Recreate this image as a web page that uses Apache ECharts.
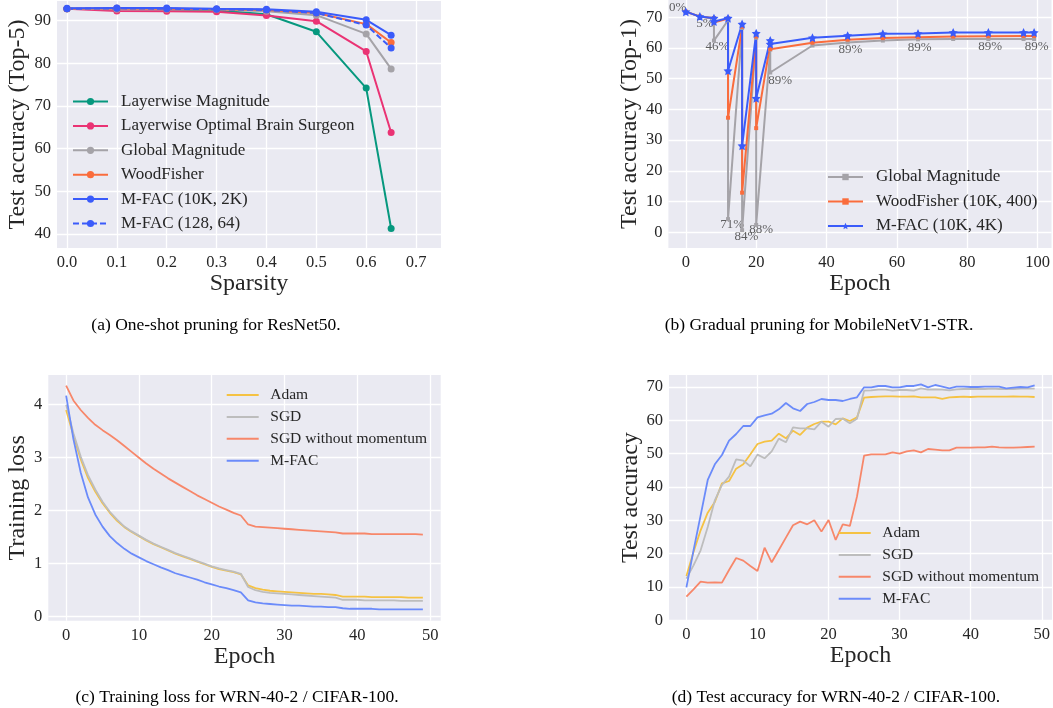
<!DOCTYPE html>
<html><head><meta charset="utf-8">
<script src="https://cdn.jsdelivr.net/npm/echarts@6/dist/echarts.min.js"></script>
<style>html,body{margin:0;padding:0;background:#fff}#c{width:1053px;height:708px}</style>
</head><body><div id="c"></div>
<script>
// ---------- (a) One-shot pruning ----------
const sparsity = [0, 0.1, 0.2, 0.3, 0.4, 0.5, 0.6, 0.65];
const layerwiseMag = [92.8, 92.7, 92.6, 92.4, 91.5, 87.4, 74.2, 41.3];
const layerwiseOBS = [92.8, 92.3, 92.2, 92.1, 91.2, 89.9, 82.8, 63.8];
const globalMagA = [92.8, 92.7, 92.7, 92.6, 92.2, 91.3, 86.9, 78.7];
const woodFisherA = [92.8, 92.9, 92.8, 92.7, 92.5, 91.8, 89.2, 84.9];
const mfac10k2k = [92.9, 93.0, 93.0, 92.8, 92.7, 92.1, 90.2, 86.6];
const mfac128 = [92.8, 92.9, 92.8, 92.7, 92.5, 91.8, 89.0, 83.6];
const ticksAx = [0, 0.1, 0.2, 0.3, 0.4, 0.5, 0.6, 0.7];
const ticksAy = [40, 50, 60, 70, 80, 90];

// ---------- (b) Gradual pruning ----------
const epochsB = [0, 4, 8, 8, 12, 12, 16, 16, 20, 20, 24, 24, 36, 46, 56, 66, 76, 86, 96, 99];
const globalMagB = [71.8, 70.2, 69.7, 62.4, 69.0, 4.3, 66.5, 0.7, 63.3, 2.4, 59.5, 52.0, 60.8, 61.8, 62.4, 62.8, 62.9, 62.9, 62.9, 62.9];
const woodFisherB = [71.8, 70.2, 69.7, 68.3, 69.6, 37.3, 66.9, 12.9, 63.7, 33.9, 61.3, 59.6, 61.7, 62.7, 63.2, 63.5, 63.7, 63.8, 63.9, 63.9];
const mfacB = [71.8, 70.2, 69.7, 68.6, 69.7, 52.6, 67.8, 28.2, 64.8, 43.6, 62.4, 61.3, 63.3, 64.0, 64.6, 64.7, 65.0, 65.0, 65.0, 65.0];
const sparsityLabels = [
  [-2.3, 73.1, '0%'], [5.4, 67.9, '5%'], [9.0, 60.5, '46%'], [13.2, 2.6, '71%'],
  [17.2, -1.3, '84%'], [21.4, 1.0, '88%'], [26.8, 49.5, '89%'], [46.8, 59.5, '89%'],
  [66.5, 60.1, '89%'], [86.5, 60.5, '89%'], [99.7, 60.5, '89%']
];
const ticksBx = [0, 20, 40, 60, 80, 100];
const ticksBy = [0, 10, 20, 30, 40, 50, 60, 70];

// ---------- (c) Training loss ----------
const epochsCD = Array.from({length: 50}, (_, i) => i);
const adamLoss = [3.90, 3.42, 2.97, 2.62, 2.36, 2.14, 1.96, 1.81, 1.69, 1.60, 1.52, 1.44, 1.37, 1.31, 1.25, 1.19, 1.14, 1.09, 1.04, 0.99, 0.94, 0.90, 0.87, 0.84, 0.80, 0.59, 0.54, 0.51, 0.49, 0.48, 0.47, 0.46, 0.45, 0.44, 0.43, 0.43, 0.42, 0.41, 0.38, 0.38, 0.38, 0.38, 0.37, 0.37, 0.37, 0.37, 0.37, 0.36, 0.36, 0.36];
const sgdLoss = [4.00, 3.46, 3.02, 2.67, 2.40, 2.17, 1.98, 1.83, 1.70, 1.61, 1.53, 1.45, 1.38, 1.32, 1.26, 1.20, 1.15, 1.10, 1.05, 1.00, 0.95, 0.91, 0.88, 0.85, 0.81, 0.56, 0.50, 0.47, 0.45, 0.44, 0.43, 0.42, 0.41, 0.40, 0.39, 0.38, 0.37, 0.36, 0.32, 0.32, 0.32, 0.31, 0.31, 0.31, 0.31, 0.31, 0.30, 0.30, 0.30, 0.30];
const sgdNmLoss = [4.36, 4.08, 3.90, 3.75, 3.62, 3.52, 3.43, 3.33, 3.22, 3.11, 3.00, 2.89, 2.79, 2.70, 2.61, 2.53, 2.45, 2.37, 2.29, 2.22, 2.15, 2.08, 2.02, 1.96, 1.91, 1.74, 1.70, 1.69, 1.68, 1.67, 1.66, 1.65, 1.64, 1.63, 1.62, 1.61, 1.60, 1.59, 1.57, 1.57, 1.57, 1.57, 1.56, 1.56, 1.56, 1.56, 1.56, 1.56, 1.56, 1.55];
const mfacLoss = [4.17, 3.35, 2.72, 2.25, 1.93, 1.70, 1.52, 1.39, 1.28, 1.19, 1.12, 1.05, 0.99, 0.93, 0.88, 0.82, 0.78, 0.74, 0.70, 0.65, 0.61, 0.57, 0.54, 0.50, 0.46, 0.31, 0.27, 0.25, 0.24, 0.23, 0.22, 0.21, 0.21, 0.20, 0.19, 0.19, 0.18, 0.18, 0.16, 0.15, 0.15, 0.15, 0.15, 0.14, 0.14, 0.14, 0.14, 0.14, 0.14, 0.14];
const ticksCx = [0, 10, 20, 30, 40, 50];
const ticksCy = [0, 1, 2, 3, 4];

// ---------- (d) Test accuracy ----------
const adamAcc = [13.3, 20.5, 27.0, 32.3, 35.5, 41.1, 41.8, 45.5, 46.8, 49.8, 52.9, 53.6, 53.9, 56.0, 54.6, 56.9, 55.6, 57.8, 58.9, 59.6, 59.6, 58.8, 60.6, 59.8, 60.9, 66.8, 67.0, 67.1, 67.2, 67.2, 67.1, 67.1, 67.2, 66.9, 66.9, 66.9, 66.4, 66.9, 67.0, 67.1, 67.0, 67.1, 67.1, 67.1, 67.1, 67.1, 67.2, 67.1, 67.1, 67.0];
const sgdAcc = [12.5, 16.5, 21.0, 28.0, 36.0, 40.6, 43.1, 48.3, 47.9, 46.2, 49.7, 48.6, 50.7, 54.5, 53.4, 57.9, 57.6, 57.6, 57.3, 59.6, 58.1, 60.4, 60.5, 59.1, 60.5, 68.9, 69.0, 69.2, 69.2, 68.9, 69.1, 69.1, 68.9, 69.6, 69.2, 69.3, 69.2, 69.0, 69.3, 69.4, 69.4, 69.4, 69.4, 69.5, 69.4, 69.4, 69.4, 69.5, 69.5, 69.5];
const sgdNmAcc = [7.1, 9.3, 11.6, 11.3, 11.4, 11.3, 15.1, 18.7, 17.9, 16.3, 14.8, 21.8, 17.4, 21.1, 24.8, 28.5, 29.6, 28.8, 30.0, 26.6, 30.1, 24.1, 28.8, 28.3, 37.1, 49.4, 49.8, 49.8, 49.8, 50.4, 50.0, 50.7, 51.0, 50.4, 51.4, 51.2, 51.0, 51.0, 51.8, 51.8, 51.8, 51.9, 51.9, 52.1, 51.9, 51.8, 51.8, 51.9, 52.0, 52.1];
const mfacAcc = [9.9, 21.0, 31.5, 42.1, 46.8, 49.6, 53.9, 55.9, 58.3, 58.3, 60.9, 61.5, 62.0, 63.3, 65.2, 63.6, 62.8, 64.9, 65.5, 66.4, 66.1, 66.1, 65.8, 66.4, 66.9, 69.9, 69.9, 70.3, 70.3, 69.9, 69.9, 70.3, 70.3, 70.8, 69.9, 70.6, 70.1, 69.6, 70.1, 70.1, 70.0, 70.0, 70.1, 70.1, 70.1, 69.6, 69.8, 70.0, 69.9, 70.5];
const ticksDx = [0, 10, 20, 30, 40, 50];
const ticksDy = [0, 10, 20, 30, 40, 50, 60, 70];

const captions = [
  '(a) One-shot pruning for ResNet50.',
  '(b) Gradual pruning for MobileNetV1-STR.',
  '(c) Training loss for WRN-40-2 / CIFAR-100.',
  '(d) Test accuracy for WRN-40-2 / CIFAR-100.'
];

const FONT = 'Liberation Serif';
const TXT = '#262626';
const BG = '#EAEAF2';
const STAR = 'path://M0,-10L2.94,-4.05L9.51,-3.09L4.76,1.55L5.88,8.09L0,5L-5.88,8.09L-4.76,1.55L-9.51,-3.09L-2.94,-4.05Z';

function ax(gridIndex, min, max, ticks, name, nameGap, fmt) {
  return {
    type: 'value', gridIndex, min, max, name, nameLocation: 'middle', nameGap,
    nameTextStyle: {fontFamily: FONT, fontSize: 24, color: TXT},
    axisLine: {show: false},
    axisTick: {show: false, customValues: ticks},
    axisLabel: {customValues: ticks, fontFamily: FONT, fontSize: 16.5, color: TXT, margin: 6,
                formatter: fmt || (v => String(v))},
    splitLine: {show: true, lineStyle: {color: '#ffffff', width: 1.3}}
  };
}
const zip = (xs, ys) => xs.map((x, i) => [x, ys[i]]);
function line(name, g, xs, ys, color, extra) {
  return Object.assign({
    type: 'line', name, xAxisIndex: g, yAxisIndex: g, data: zip(xs, ys),
    symbol: 'none', lineStyle: {width: 1.8, color}, itemStyle: {color},
    animation: false, silent: true
  }, extra || {});
}
const dot = (size) => ({symbol: 'circle', symbolSize: size, showSymbol: true});
const fmtName = n => n.split('::')[1];
function legend(names, left, top, itemWidth, itemHeight, gap, fs, pad, hideSymbol) {
  const l = {
    data: names, left, top, orient: 'vertical', itemWidth, itemHeight, itemGap: gap,
    padding: 0, selectedMode: false, formatter: fmtName,
    textStyle: {fontFamily: FONT, fontSize: fs, color: TXT, lineHeight: fs, padding: [0, 0, 0, pad]}
  };
  if (hideSymbol) l.itemStyle = {opacity: 0};
  return l;
}

const cA = {teal: '#06987E', pink: '#EA3374', gray: '#A5A3A8', orange: '#FA6C3C', blue: '#3A5BFA'};
const cC = {adam: '#F5C243', sgd: '#BDBDBD', nm: '#F7876A', mfac: '#6B8BFA'};

const namesA = ['a::Layerwise Magnitude', 'a::Layerwise Optimal Brain Surgeon', 'a::Global Magnitude',
                'a::WoodFisher', 'a::M-FAC (10K, 2K)', 'a::M-FAC (128, 64)'];
const namesB = ['b::Global Magnitude', 'b::WoodFisher (10K, 400)', 'b::M-FAC (10K, 4K)'];
const namesC = ['c::Adam', 'c::SGD', 'c::SGD without momentum', 'c::M-FAC'];
const namesD = ['d::Adam', 'd::SGD', 'd::SGD without momentum', 'd::M-FAC'];

const option = {
  animation: false,
  backgroundColor: '#ffffff',
  grid: [
    {left: 57, top: 1, width: 384, height: 247, show: true, backgroundColor: BG, borderWidth: 0},
    {left: 668.4, top: 0, width: 387.6, height: 248, show: true, backgroundColor: BG, borderWidth: 0},
    {left: 48.3, top: 375, width: 392.4, height: 245.7, show: true, backgroundColor: BG, borderWidth: 0},
    {left: 669, top: 375, width: 386.6, height: 245.3, show: true, backgroundColor: BG, borderWidth: 0}
  ],
  xAxis: [
    ax(0, -0.02, 0.75, ticksAx, 'Sparsity', 20, v => v.toFixed(1)),
    ax(1, -4.95, 103.95, ticksBx, 'Epoch', 20),
    ax(2, -2.45, 51.45, ticksCx, 'Epoch', 20),
    ax(3, -2.45, 51.45, ticksDx, 'Epoch', 20)
  ],
  yAxis: [
    ax(0, 36.72, 94.62, ticksAy, 'Test accuracy (Top-5)', 27),
    ax(1, -5.1, 75.6, ticksBy, 'Test accuracy (Top-1)', 26),
    ax(2, -0.075, 4.56, ticksCy, 'Training loss', 17),
    ax(3, 0, 73.6, ticksDy, 'Test accuracy', 26)
  ],
  legend: [
    legend(namesA, 72, 93, 35, 9, 7.4, 17, 8, false),
    legend(namesB, 827, 168.5, 35, 8, 7.5, 17, 8, false),
    legend(namesC, 225.7, 387, 32, 10, 5.9, 15.5, 6.6, true),
    legend(namesD, 837.7, 525, 32, 10, 5.9, 15.5, 6.6, true)
  ],
  series: [
    line(namesA[0], 0, sparsity, layerwiseMag, cA.teal, Object.assign({lineStyle: {width: 2, color: cA.teal}}, dot(7))),
    line(namesA[1], 0, sparsity, layerwiseOBS, cA.pink, Object.assign({lineStyle: {width: 2, color: cA.pink}}, dot(7))),
    line(namesA[2], 0, sparsity, globalMagA, cA.gray, Object.assign({lineStyle: {width: 2, color: cA.gray}}, dot(7))),
    line(namesA[3], 0, sparsity, woodFisherA, cA.orange, Object.assign({lineStyle: {width: 2, color: cA.orange}}, dot(7))),
    line(namesA[4], 0, sparsity, mfac10k2k, cA.blue, Object.assign({lineStyle: {width: 2, color: cA.blue}}, dot(7))),
    line(namesA[5], 0, sparsity, mfac128, cA.blue, Object.assign({lineStyle: {width: 2, color: cA.blue, type: [6, 3]}}, dot(7))),

    line(namesB[0], 1, epochsB, globalMagB, cA.gray, {lineStyle: {width: 2, color: cA.gray}, symbol: 'rect', symbolSize: 4, showSymbol: true}),
    line(namesB[1], 1, epochsB, woodFisherB, cA.orange, {lineStyle: {width: 2, color: cA.orange}, symbol: 'rect', symbolSize: 4, showSymbol: true}),
    line(namesB[2], 1, epochsB, mfacB, cA.blue, {lineStyle: {width: 2, color: cA.blue}, symbol: STAR, symbolSize: 9, showSymbol: true}),
    {
      type: 'scatter', xAxisIndex: 1, yAxisIndex: 1, silent: true, animation: false,
      symbolSize: 1, itemStyle: {color: 'rgba(0,0,0,0)'},
      data: sparsityLabels.map(d => ({value: [d[0], d[1]], name: d[2]})),
      label: {show: true, position: 'inside', formatter: '{b}', fontFamily: FONT, fontSize: 13, color: '#3a3a3a'}
    },

    line(namesC[0], 2, epochsCD, adamLoss, cC.adam),
    line(namesC[1], 2, epochsCD, sgdLoss, cC.sgd),
    line(namesC[2], 2, epochsCD, sgdNmLoss, cC.nm),
    line(namesC[3], 2, epochsCD, mfacLoss, cC.mfac),

    line(namesD[0], 3, epochsCD, adamAcc, cC.adam),
    line(namesD[1], 3, epochsCD, sgdAcc, cC.sgd),
    line(namesD[2], 3, epochsCD, sgdNmAcc, cC.nm),
    line(namesD[3], 3, epochsCD, mfacAcc, cC.mfac)
  ],
  graphic: [
    {type: 'text', x: 216, y: 325, style: {text: captions[0]}},
    {type: 'text', x: 819, y: 325, style: {text: captions[1]}},
    {type: 'text', x: 237, y: 697, style: {text: captions[2]}},
    {type: 'text', x: 836, y: 697, style: {text: captions[3]}}
  ].map(g => { Object.assign(g.style, {font: '17.5px "Liberation Serif"', fill: '#000', align: 'center', verticalAlign: 'middle'}); return g; })
};

const chart = echarts.init(document.getElementById('c'), null, {renderer: 'canvas'});
chart.setOption(option);
</script>
</body></html>
